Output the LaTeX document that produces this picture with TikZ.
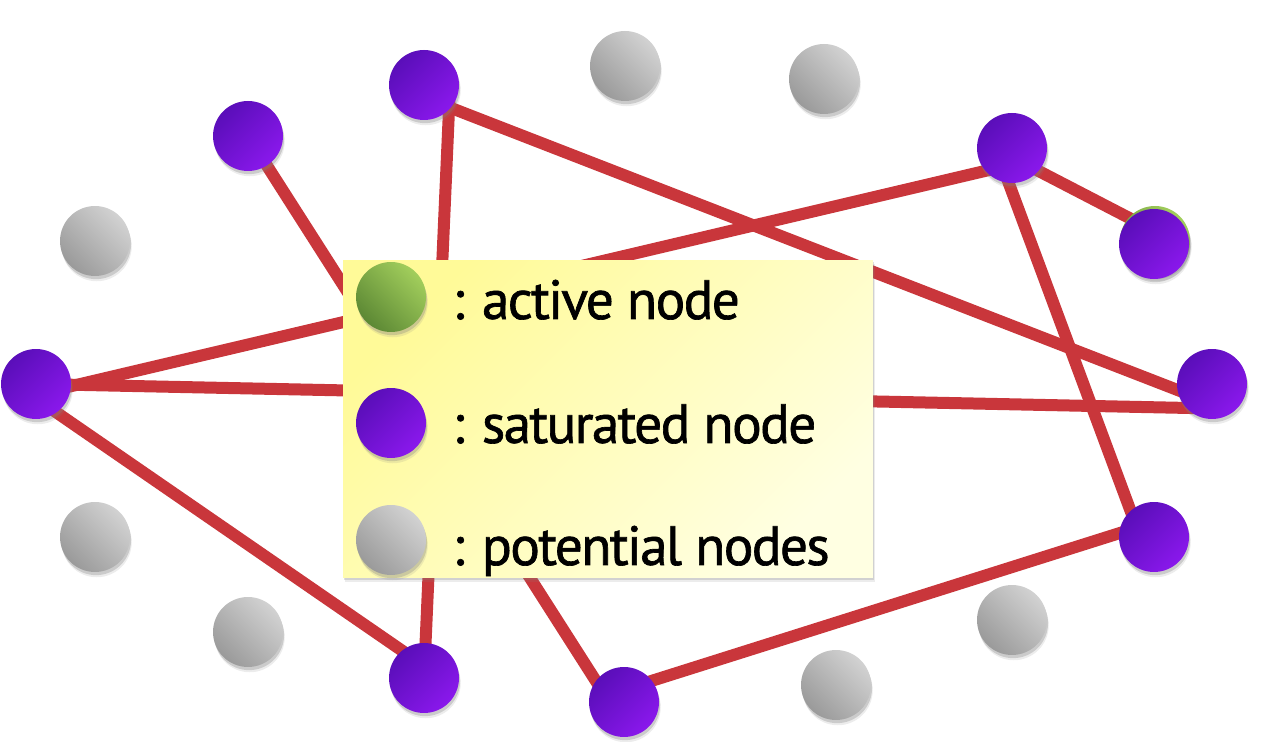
\documentclass[tikz,border=0pt]{standalone}
\usepackage{fontspec}
\newfontfamily\keyfont{PT Sans}[FakeBold=1.2,LetterSpace=-3]
\usetikzlibrary{positioning}
\usetikzlibrary{backgrounds}
\usetikzlibrary{shadows}

\definecolor{satdark}{HTML}{5A0EB9}
\definecolor{satlight}{HTML}{8A18EC}
\definecolor{potlight}{HTML}{D2D2D2}
\definecolor{potdark}{HTML}{9A9A9A}
\definecolor{actlight}{HTML}{A2CE5C}
\definecolor{actdark}{HTML}{5C8834}
\definecolor{linkred}{HTML}{C9363B}
\definecolor{keytop}{HTML}{FFFA98}
\definecolor{keybot}{HTML}{FFFFE2}

\begin{document}
\begin{tikzpicture}[x=0.02cm,y=-0.02cm,
    ball/.style={circle,minimum size=1.4cm,inner sep=0pt,
      drop shadow={opacity=0.15,shadow xshift=1pt,shadow yshift=-3pt},
      drop shadow={opacity=0.3,shadow xshift=0.6pt,shadow yshift=-1.8pt}},
    sat/.style={ball,top color=satdark,bottom color=satlight,shading angle=45},
    pot/.style={ball,top color=potlight,bottom color=potdark,shading angle=-45},
    act/.style={ball,top color=actlight,bottom color=actdark,shading angle=-45},
    link/.style={draw=linkred,line width=0.24cm,shorten <=0.2cm,shorten >=0.2cm},
    keybox/.style={rectangle,minimum width=10.6cm,minimum height=6.36cm,
      top color=keytop,bottom color=keybot,shading angle=45,
      drop shadow={opacity=0.15,shadow xshift=1.2pt,shadow yshift=-2.5pt},
      drop shadow={opacity=0.25,shadow xshift=0.6pt,shadow yshift=-1.2pt}},
    lbl/.style={font=\keyfont\fontsize{31.5}{38}\selectfont,anchor=base west,inner sep=0pt}]
    \useasboundingbox (0,0) rectangle (1282,742);

    % potential nodes
    \node[pot] (G1) at (625,66) {};
    \node[pot] (G2) at (824,79) {};
    \node[pot] (G3) at (95,241) {};
    \node[pot] (G4) at (95,537) {};
    \node[pot] (G5) at (248,632) {};
    \node[pot] (G6) at (1012,620) {};
    \node[pot] (G7) at (836,685) {};

    % saturated nodes
    \node[act] (A4) at (1155,241) {};
    \node[sat] (P1) at (424,85) {};
    \node[sat] (P2) at (248,136) {};
    \node[sat] (P3) at (1012,148) {};
    \node[sat] (P4) at (1154,244) {};
    \node[sat] (P5) at (36,384) {};
    \node[sat] (P6) at (1212,384) {};
    \node[sat] (P7) at (1154,537) {};
    \node[sat] (P8) at (424,678) {};
    \node[sat] (P9) at (624,702) {};

    \begin{scope}[on background layer]
        \draw[link] (P1.40) -- (P8.center);
        \draw[link] (P1.178) -- (P6.-52);
        \draw[link] (P2.center) -- (P9.-78);
        \draw[link] (P3.-14) -- (P5.210);
        \draw[link] (P3.166) -- (P4.-8);
        \draw[link] (P3.136) -- (P7.-91);
        \draw[link] (P5.center) -- (P6.-45);
        \draw[link] (P5.165) -- (P8.-18);
        \draw[link] (P9.178) -- (P7.41);
    \end{scope}

    % legend
    \node[keybox] (Key) at (608,419) {};
    \node[act] (Ka) at (391,297) {};
    \node[sat] (Ks) at (391,423) {};
    \node[pot] (Kp) at (391,540) {};
    \node[lbl] (Ta) at (452,319) {: active node};
    \node[lbl] (Ts) at (452,443) {: saturated node};
    \node[lbl] (Tp) at (452,565) {: potential nodes};
\end{tikzpicture}
\end{document}
